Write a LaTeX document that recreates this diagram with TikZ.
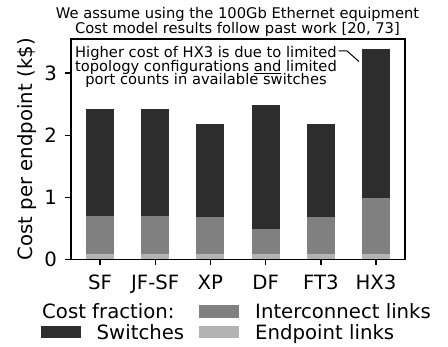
\documentclass[tikz,border=0pt]{standalone}
\usepackage{fontspec}
\setmainfont{DejaVu Sans}
\begin{document}
\begin{tikzpicture}[x=1pt,y=-1pt]
  \definecolor{swcol}{HTML}{2D2D2D}
  \definecolor{intcol}{HTML}{808080}
  \definecolor{endcol}{HTML}{B3B3B3}
  \tikzset{
    axisline/.style={line width=1.6pt, line cap=rect},
    tickline/.style={line width=1.4pt},
    bigfont/.style={font=\fontsize{19.7}{23}\selectfont, inner sep=0pt},
    smallfont/.style={font=\fontsize{14.7}{15}\selectfont, inner sep=0pt},
    notetext/.style={smallfont, anchor=base},
    legtext/.style={bigfont, anchor=base west},
  }
  \useasboundingbox (0,0) rectangle (448,347);

  % stacked bars: endpoint links, interconnect links, switches
  \foreach \i/\name/\top/\mid in {0/SF/109/216, 1/JF-SF/109/216, 2/XP/124/217,
                                   3/DF/105/229, 4/FT3/124/217, 5/HX3/49.5/198} {
    \pgfmathsetmacro\cx{100+55.2*\i}
    \fill[endcol] (\cx-14,259.5) rectangle (\cx+14,254);
    \fill[intcol] (\cx-14,254) rectangle (\cx+14,\mid);
    \fill[swcol]  (\cx-14,\mid) rectangle (\cx+14,\top);
    \draw[tickline] (\cx,259.5) -- (\cx,265.5);
    \node[bigfont, anchor=base] (x\i) at (\cx,289.5) {\name};
  }

  % axes frame
  \draw[axisline] (71,39) rectangle (405,259.5);

  % y ticks and labels
  \foreach \v in {0,1,2,3} {
    \draw[tickline] (65,{259.5-62.1*\v}) -- (71,{259.5-62.1*\v});
    \node[bigfont, anchor=east] (y\v) at (57,{259.5-62.1*\v}) {\v};
  }
  \node[bigfont, anchor=base, rotate=90] (ylab) at (32.5,149.25) {Cost per endpoint (k\$)};

  % title
  \node[smallfont, anchor=base] (title1) at (237.5,18.3) {We assume using the 100Gb Ethernet equipment};
  \node[smallfont, anchor=base] (title2) at (237.5,33.3) {Cost model results follow past work [20, 73]};

  % note on HX3
  \node[notetext] (note1) at (206,58) {Higher cost of HX3 is due to limited};
  \node[notetext] (note2) at (206,71.5) {topology configurations \underline{and} limited};
  \node[notetext] (note3) at (206,85) {port counts in available switches};
  \coordinate (hxtip) at (359,61.5);
  \draw[line width=1pt] ([xshift=1.5pt,yshift=7pt]note1.base east) -- ++(8.5,0) -- (hxtip);

  % legend
  \node[legtext] (legtitle) at (42,318.5) {Cost fraction:};
  \fill[swcol]  (41,326) rectangle (80.5,338.5);
  \node[legtext] (legsw) at (96.5,339.5) {Switches};
  \fill[intcol] (199,305) rectangle (239,318);
  \node[legtext] (legint) at (255,318.5) {Interconnect links};
  \fill[endcol] (199,326) rectangle (239,338.5);
  \node[legtext] (legend) at (255,339.5) {Endpoint links};
\end{tikzpicture}
\end{document}
